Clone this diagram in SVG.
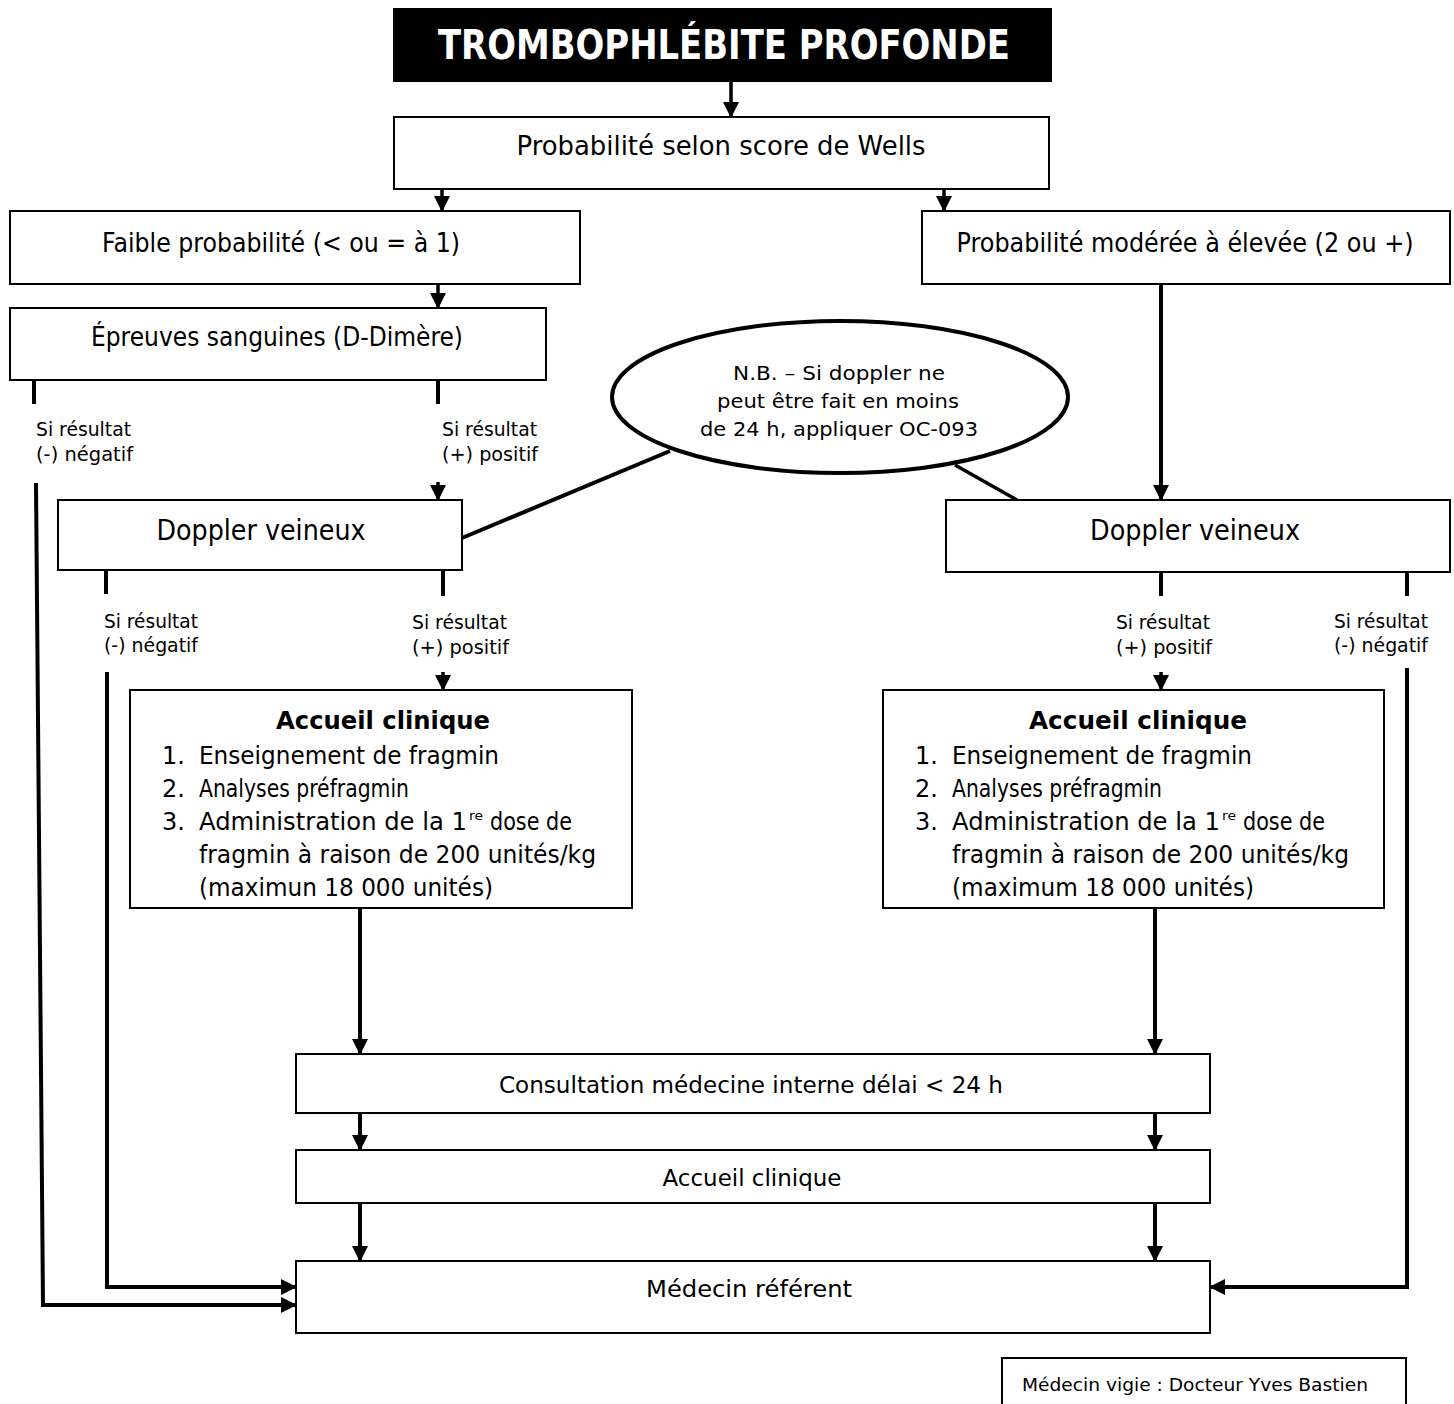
<svg xmlns="http://www.w3.org/2000/svg" width="1454" height="1404" viewBox="0 0 1454 1404">
  <style>
    .box { fill: #ffffff; stroke: #000000; stroke-width: 2; }
    .t { font-family: "DejaVu Sans", Tahoma, Verdana, sans-serif; fill: #000000; }
    .c { text-anchor: middle; }
    .b { font-weight: bold; }
    .wire { fill: none; stroke: #000000; stroke-width: 4; }
    .thin { fill: none; stroke: #000000; stroke-width: 3.5; }
  </style>
  <defs>
    <marker id="arrow" viewBox="0 0 16 16" refX="15" refY="8" markerWidth="16" markerHeight="16" markerUnits="userSpaceOnUse" orient="auto">
      <path d="M0,0 L16,8 L0,16 Z" fill="#000000"/>
    </marker>
  </defs>
  <rect width="1454" height="1404" fill="#ffffff"/>

  <!-- Connectors -->
  <g id="connectors">
    <line class="thin" x1="731" y1="82" x2="731" y2="117" marker-end="url(#arrow)"/>
    <line class="thin" x1="442" y1="189" x2="442" y2="211" marker-end="url(#arrow)"/>
    <line class="thin" x1="944" y1="189" x2="944" y2="211" marker-end="url(#arrow)"/>
    <line class="thin" x1="438" y1="284" x2="438" y2="308" marker-end="url(#arrow)"/>

    <!-- D-dimer results -->
    <line class="wire" x1="34" y1="380" x2="34" y2="404"/>
    <line class="wire" x1="438" y1="380" x2="438" y2="404"/>
    <polyline class="wire" points="36,483 43,1305 296,1305" marker-end="url(#arrow)"/>
    <line class="thin" x1="438" y1="482" x2="438" y2="500" marker-end="url(#arrow)"/>

    <!-- moderate/high probability straight to doppler -->
    <line class="wire" x1="1161" y1="284" x2="1161" y2="500" marker-end="url(#arrow)"/>

    <!-- note callouts -->
    <line class="wire" x1="670" y1="451" x2="462" y2="538"/>
    <line class="thin" x1="955" y1="465" x2="1017" y2="500"/>

    <!-- left doppler results -->
    <line class="wire" x1="106" y1="570" x2="106" y2="594"/>
    <line class="wire" x1="443" y1="570" x2="443" y2="596"/>
    <polyline class="wire" points="107,672 107,1287 296,1287" marker-end="url(#arrow)"/>
    <line class="thin" x1="443" y1="672" x2="443" y2="690" marker-end="url(#arrow)"/>

    <!-- right doppler results -->
    <line class="wire" x1="1161" y1="572" x2="1161" y2="596"/>
    <line class="wire" x1="1407" y1="572" x2="1407" y2="596"/>
    <line class="thin" x1="1161" y1="672" x2="1161" y2="690" marker-end="url(#arrow)"/>
    <polyline class="wire" points="1407,668 1407,1287 1210,1287" marker-end="url(#arrow)"/>

    <!-- lower chain -->
    <line class="wire" x1="360" y1="908" x2="360" y2="1054" marker-end="url(#arrow)"/>
    <line class="wire" x1="1155" y1="908" x2="1155" y2="1054" marker-end="url(#arrow)"/>
    <line class="wire" x1="360" y1="1113" x2="360" y2="1150" marker-end="url(#arrow)"/>
    <line class="wire" x1="1155" y1="1113" x2="1155" y2="1150" marker-end="url(#arrow)"/>
    <line class="wire" x1="360" y1="1203" x2="360" y2="1261" marker-end="url(#arrow)"/>
    <line class="wire" x1="1155" y1="1203" x2="1155" y2="1261" marker-end="url(#arrow)"/>
  </g>

  <g id="title">
    <rect x="393" y="8" width="659" height="74" fill="#000000"/>
    <text class="t b c" x="724" y="59" font-size="41" style="fill:#ffffff" textLength="572" lengthAdjust="spacingAndGlyphs">TROMBOPHLÉBITE PROFONDE</text>
  </g>

  <g id="wells">
    <rect class="box" x="394" y="117" width="655" height="72"/>
    <text class="t c" x="721" y="155" font-size="26" textLength="409" lengthAdjust="spacingAndGlyphs">Probabilité selon score de Wells</text>
  </g>

  <g id="low-probability">
    <rect class="box" x="10" y="211" width="570" height="73"/>
    <text class="t c" x="281" y="252" font-size="26" textLength="358" lengthAdjust="spacingAndGlyphs">Faible probabilité (&lt; ou = à 1)</text>
  </g>

  <g id="high-probability">
    <rect class="box" x="922" y="211" width="528" height="73"/>
    <text class="t c" x="1185" y="252" font-size="26" textLength="457" lengthAdjust="spacingAndGlyphs">Probabilité  modérée à élevée (2 ou +)</text>
  </g>

  <g id="blood-tests">
    <rect class="box" x="10" y="308" width="536" height="72"/>
    <text class="t c" x="277" y="346" font-size="26" textLength="372" lengthAdjust="spacingAndGlyphs">Épreuves sanguines (D-Dimère)</text>
  </g>

  <g id="labels-ddimer">
    <text class="t" x="36" y="436" font-size="19" textLength="95" lengthAdjust="spacingAndGlyphs">Si résultat</text>
    <text class="t" x="36" y="461" font-size="19" textLength="97" lengthAdjust="spacingAndGlyphs">(-) négatif</text>
    <text class="t" x="442" y="436" font-size="19" textLength="95" lengthAdjust="spacingAndGlyphs">Si résultat</text>
    <text class="t" x="442" y="461" font-size="19" textLength="96" lengthAdjust="spacingAndGlyphs">(+) positif</text>
  </g>

  <g id="note">
    <ellipse cx="840" cy="397" rx="228" ry="76" fill="#ffffff" stroke="#000000" stroke-width="4"/>
    <text class="t c" x="839" y="380" font-size="20" textLength="212" lengthAdjust="spacingAndGlyphs">N.B. – Si doppler ne</text>
    <text class="t c" x="838" y="408" font-size="20" textLength="242" lengthAdjust="spacingAndGlyphs">peut être fait en moins</text>
    <text class="t c" x="839" y="436" font-size="20" textLength="278" lengthAdjust="spacingAndGlyphs">de 24 h, appliquer OC-093</text>
  </g>

  <g id="doppler-left">
    <rect class="box" x="58" y="500" width="404" height="70"/>
    <text class="t c" x="261" y="540" font-size="28" textLength="209" lengthAdjust="spacingAndGlyphs">Doppler veineux</text>
  </g>

  <g id="doppler-right">
    <rect class="box" x="946" y="500" width="504" height="72"/>
    <text class="t c" x="1195" y="540" font-size="28" textLength="210" lengthAdjust="spacingAndGlyphs">Doppler veineux</text>
  </g>

  <g id="labels-doppler">
    <text class="t" x="104" y="628" font-size="19" textLength="94" lengthAdjust="spacingAndGlyphs">Si résultat</text>
    <text class="t" x="104" y="652" font-size="19" textLength="94" lengthAdjust="spacingAndGlyphs">(-) négatif</text>
    <text class="t" x="412" y="629" font-size="19" textLength="95" lengthAdjust="spacingAndGlyphs">Si résultat</text>
    <text class="t" x="412" y="654" font-size="19" textLength="97" lengthAdjust="spacingAndGlyphs">(+) positif</text>
    <text class="t" x="1116" y="629" font-size="19" textLength="94" lengthAdjust="spacingAndGlyphs">Si résultat</text>
    <text class="t" x="1116" y="654" font-size="19" textLength="96" lengthAdjust="spacingAndGlyphs">(+) positif</text>
    <text class="t" x="1334" y="628" font-size="19" textLength="94" lengthAdjust="spacingAndGlyphs">Si résultat</text>
    <text class="t" x="1334" y="652" font-size="19" textLength="94" lengthAdjust="spacingAndGlyphs">(-) négatif</text>
  </g>

  <g id="clinic-left">
    <rect class="box" x="130" y="690" width="502" height="218"/>
    <text class="t b c" x="383" y="729" font-size="25" textLength="214" lengthAdjust="spacingAndGlyphs">Accueil clinique</text>
    <text class="t" x="162" y="764" font-size="24">1.</text>
    <text class="t" x="199" y="764" font-size="24" textLength="300" lengthAdjust="spacingAndGlyphs">Enseignement de fragmin</text>
    <text class="t" x="162" y="797" font-size="24">2.</text>
    <text class="t" x="199" y="797" font-size="24" textLength="210" lengthAdjust="spacingAndGlyphs">Analyses préfragmin</text>
    <text class="t" x="162" y="830" font-size="24">3.</text>
    <text class="t" x="199" y="830" font-size="24" textLength="268" lengthAdjust="spacingAndGlyphs">Administration de la 1</text>
    <text class="t" x="469" y="820" font-size="13" textLength="14" lengthAdjust="spacingAndGlyphs">re</text>
    <text class="t" x="490" y="830" font-size="24" textLength="82" lengthAdjust="spacingAndGlyphs">dose de</text>
    <text class="t" x="199" y="863" font-size="24" textLength="397" lengthAdjust="spacingAndGlyphs">fragmin à raison de 200 unités/kg</text>
    <text class="t" x="199" y="896" font-size="24" textLength="294" lengthAdjust="spacingAndGlyphs">(maximun 18 000 unités)</text>
  </g>

  <g id="clinic-right">
    <rect class="box" x="883" y="690" width="501" height="218"/>
    <text class="t b c" x="1138" y="729" font-size="25" textLength="218" lengthAdjust="spacingAndGlyphs">Accueil clinique</text>
    <text class="t" x="915" y="764" font-size="24">1.</text>
    <text class="t" x="952" y="764" font-size="24" textLength="300" lengthAdjust="spacingAndGlyphs">Enseignement de fragmin</text>
    <text class="t" x="915" y="797" font-size="24">2.</text>
    <text class="t" x="952" y="797" font-size="24" textLength="210" lengthAdjust="spacingAndGlyphs">Analyses préfragmin</text>
    <text class="t" x="915" y="830" font-size="24">3.</text>
    <text class="t" x="952" y="830" font-size="24" textLength="268" lengthAdjust="spacingAndGlyphs">Administration de la 1</text>
    <text class="t" x="1222" y="820" font-size="13" textLength="14" lengthAdjust="spacingAndGlyphs">re</text>
    <text class="t" x="1243" y="830" font-size="24" textLength="82" lengthAdjust="spacingAndGlyphs">dose de</text>
    <text class="t" x="952" y="863" font-size="24" textLength="397" lengthAdjust="spacingAndGlyphs">fragmin à raison de 200 unités/kg</text>
    <text class="t" x="952" y="896" font-size="24" textLength="302" lengthAdjust="spacingAndGlyphs">(maximum 18 000 unités)</text>
  </g>

  <g id="consultation">
    <rect class="box" x="296" y="1054" width="914" height="59"/>
    <text class="t c" x="751" y="1093" font-size="23" textLength="504" lengthAdjust="spacingAndGlyphs">Consultation médecine interne délai &lt; 24 h</text>
  </g>

  <g id="clinic-followup">
    <rect class="box" x="296" y="1150" width="914" height="53"/>
    <text class="t c" x="752" y="1186" font-size="23" textLength="179" lengthAdjust="spacingAndGlyphs">Accueil clinique</text>
  </g>

  <g id="referring-physician">
    <rect class="box" x="296" y="1261" width="914" height="72"/>
    <text class="t c" x="749" y="1297" font-size="23" textLength="206" lengthAdjust="spacingAndGlyphs">Médecin référent</text>
  </g>

  <g id="vigie">
    <rect class="box" x="1002" y="1358" width="404" height="60"/>
    <text class="t" x="1022" y="1391" font-size="17" textLength="346" lengthAdjust="spacingAndGlyphs">Médecin vigie : Docteur Yves Bastien</text>
  </g>
</svg>
